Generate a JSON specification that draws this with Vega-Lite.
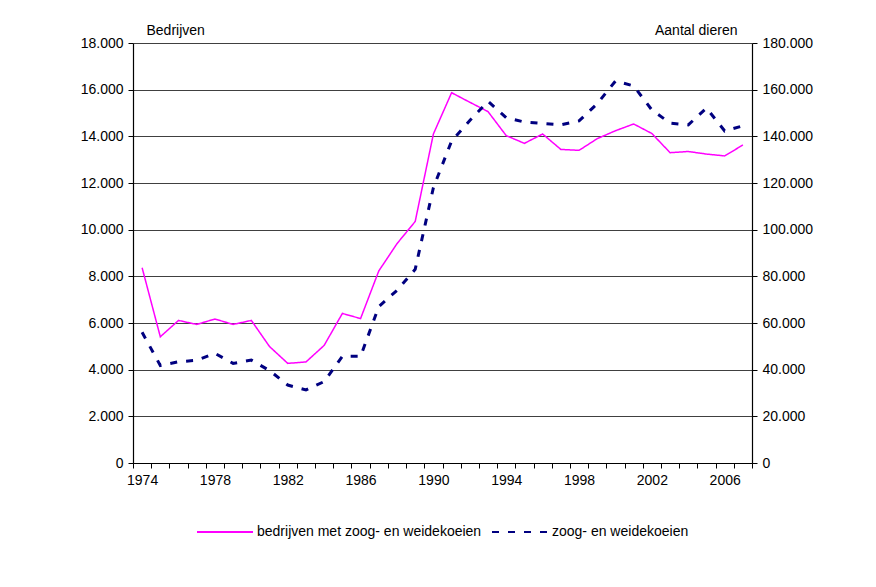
{
  "$schema": "https://vega.github.io/schema/vega-lite/v6.json",
  "width": 619,
  "height": 420,
  "autosize": {"type": "none"},
  "padding": {"left": 133, "top": 43, "right": 124, "bottom": 124},
  "background": "white",
  "config": {
    "view": {"stroke": null},
    "font": "Liberation Sans",
    "axis": {
      "labelFont": "Liberation Sans", "labelFontSize": 14, "labelColor": "#000",
      "titleFont": "Liberation Sans", "titleFontSize": 14, "titleFontWeight": "normal", "titleColor": "#000",
      "domainColor": "#000", "tickColor": "#000", "domainWidth": 1.2, "tickWidth": 1
    },
    "legend": {
      "orient": "none", "legendX": 63, "legendY": 460, "direction": "horizontal",
      "symbolType": "stroke", "symbolSize": 3136, "symbolStrokeWidth": 2,
      "labelFont": "Liberation Sans", "labelFontSize": 14, "labelColor": "#000", "labelLimit": 0,
      "columnPadding": 6, "labelOffset": 3
    }
  },
  "data": {"values": [
    {"jaar": 1974, "serie": "bedrijven met zoog- en weidekoeien", "waarde": 8370},
    {"jaar": 1975, "serie": "bedrijven met zoog- en weidekoeien", "waarde": 5410},
    {"jaar": 1976, "serie": "bedrijven met zoog- en weidekoeien", "waarde": 6110},
    {"jaar": 1977, "serie": "bedrijven met zoog- en weidekoeien", "waarde": 5940},
    {"jaar": 1978, "serie": "bedrijven met zoog- en weidekoeien", "waarde": 6170},
    {"jaar": 1979, "serie": "bedrijven met zoog- en weidekoeien", "waarde": 5940},
    {"jaar": 1980, "serie": "bedrijven met zoog- en weidekoeien", "waarde": 6110},
    {"jaar": 1981, "serie": "bedrijven met zoog- en weidekoeien", "waarde": 4990},
    {"jaar": 1982, "serie": "bedrijven met zoog- en weidekoeien", "waarde": 4270},
    {"jaar": 1983, "serie": "bedrijven met zoog- en weidekoeien", "waarde": 4330},
    {"jaar": 1984, "serie": "bedrijven met zoog- en weidekoeien", "waarde": 5040},
    {"jaar": 1985, "serie": "bedrijven met zoog- en weidekoeien", "waarde": 6410},
    {"jaar": 1986, "serie": "bedrijven met zoog- en weidekoeien", "waarde": 6190},
    {"jaar": 1987, "serie": "bedrijven met zoog- en weidekoeien", "waarde": 8230},
    {"jaar": 1988, "serie": "bedrijven met zoog- en weidekoeien", "waarde": 9400},
    {"jaar": 1989, "serie": "bedrijven met zoog- en weidekoeien", "waarde": 10350},
    {"jaar": 1990, "serie": "bedrijven met zoog- en weidekoeien", "waarde": 14100},
    {"jaar": 1991, "serie": "bedrijven met zoog- en weidekoeien", "waarde": 15870},
    {"jaar": 1992, "serie": "bedrijven met zoog- en weidekoeien", "waarde": 15460},
    {"jaar": 1993, "serie": "bedrijven met zoog- en weidekoeien", "waarde": 15060},
    {"jaar": 1994, "serie": "bedrijven met zoog- en weidekoeien", "waarde": 14030},
    {"jaar": 1995, "serie": "bedrijven met zoog- en weidekoeien", "waarde": 13700},
    {"jaar": 1996, "serie": "bedrijven met zoog- en weidekoeien", "waarde": 14100},
    {"jaar": 1997, "serie": "bedrijven met zoog- en weidekoeien", "waarde": 13440},
    {"jaar": 1998, "serie": "bedrijven met zoog- en weidekoeien", "waarde": 13400},
    {"jaar": 1999, "serie": "bedrijven met zoog- en weidekoeien", "waarde": 13900},
    {"jaar": 2000, "serie": "bedrijven met zoog- en weidekoeien", "waarde": 14240},
    {"jaar": 2001, "serie": "bedrijven met zoog- en weidekoeien", "waarde": 14530},
    {"jaar": 2002, "serie": "bedrijven met zoog- en weidekoeien", "waarde": 14120},
    {"jaar": 2003, "serie": "bedrijven met zoog- en weidekoeien", "waarde": 13300},
    {"jaar": 2004, "serie": "bedrijven met zoog- en weidekoeien", "waarde": 13350},
    {"jaar": 2005, "serie": "bedrijven met zoog- en weidekoeien", "waarde": 13240},
    {"jaar": 2006, "serie": "bedrijven met zoog- en weidekoeien", "waarde": 13160},
    {"jaar": 2007, "serie": "bedrijven met zoog- en weidekoeien", "waarde": 13630},
    {"jaar": 1974, "serie": "zoog- en weidekoeien", "waarde": 56000},
    {"jaar": 1975, "serie": "zoog- en weidekoeien", "waarde": 41800},
    {"jaar": 1976, "serie": "zoog- en weidekoeien", "waarde": 43400},
    {"jaar": 1977, "serie": "zoog- en weidekoeien", "waarde": 44000},
    {"jaar": 1978, "serie": "zoog- en weidekoeien", "waarde": 47000},
    {"jaar": 1979, "serie": "zoog- en weidekoeien", "waarde": 42700},
    {"jaar": 1980, "serie": "zoog- en weidekoeien", "waarde": 44100},
    {"jaar": 1981, "serie": "zoog- en weidekoeien", "waarde": 39600},
    {"jaar": 1982, "serie": "zoog- en weidekoeien", "waarde": 33400},
    {"jaar": 1983, "serie": "zoog- en weidekoeien", "waarde": 31300},
    {"jaar": 1984, "serie": "zoog- en weidekoeien", "waarde": 34900},
    {"jaar": 1985, "serie": "zoog- en weidekoeien", "waarde": 45700},
    {"jaar": 1986, "serie": "zoog- en weidekoeien", "waarde": 45700},
    {"jaar": 1987, "serie": "zoog- en weidekoeien", "waarde": 67000},
    {"jaar": 1988, "serie": "zoog- en weidekoeien", "waarde": 74000},
    {"jaar": 1989, "serie": "zoog- en weidekoeien", "waarde": 83000},
    {"jaar": 1990, "serie": "zoog- en weidekoeien", "waarde": 118000},
    {"jaar": 1991, "serie": "zoog- en weidekoeien", "waarde": 138000},
    {"jaar": 1992, "serie": "zoog- en weidekoeien", "waarde": 146800},
    {"jaar": 1993, "serie": "zoog- en weidekoeien", "waarde": 155000},
    {"jaar": 1994, "serie": "zoog- en weidekoeien", "waarde": 148000},
    {"jaar": 1995, "serie": "zoog- en weidekoeien", "waarde": 146100},
    {"jaar": 1996, "serie": "zoog- en weidekoeien", "waarde": 145500},
    {"jaar": 1997, "serie": "zoog- en weidekoeien", "waarde": 144900},
    {"jaar": 1998, "serie": "zoog- en weidekoeien", "waarde": 146600},
    {"jaar": 1999, "serie": "zoog- en weidekoeien", "waarde": 154000},
    {"jaar": 2000, "serie": "zoog- en weidekoeien", "waarde": 163700},
    {"jaar": 2001, "serie": "zoog- en weidekoeien", "waarde": 161600},
    {"jaar": 2002, "serie": "zoog- en weidekoeien", "waarde": 151300},
    {"jaar": 2003, "serie": "zoog- en weidekoeien", "waarde": 145700},
    {"jaar": 2004, "serie": "zoog- en weidekoeien", "waarde": 144900},
    {"jaar": 2005, "serie": "zoog- en weidekoeien", "waarde": 152100},
    {"jaar": 2006, "serie": "zoog- en weidekoeien", "waarde": 142300},
    {"jaar": 2007, "serie": "zoog- en weidekoeien", "waarde": 144500}
  ]},
  "encoding": {
    "x": {
      "field": "jaar", "type": "quantitative",
      "scale": {"domain": [1973.5, 2007.5], "nice": false, "zero": false},
      "axis": {
        "title": null,
        "values": [1973.5, 1974.5, 1975.5, 1976.5, 1977.5, 1978.5, 1979.5, 1980.5, 1981.5, 1982.5, 1983.5, 1984.5, 1985.5, 1986.5, 1987.5, 1988.5, 1989.5, 1990.5, 1991.5, 1992.5, 1993.5, 1994.5, 1995.5, 1996.5, 1997.5, 1998.5, 1999.5, 2000.5, 2001.5, 2002.5, 2003.5, 2004.5, 2005.5, 2006.5, 2007.5],
        "labelExpr": "((datum.value - 1973.5) % 4 == 0 && datum.value < 2007) ? ('' + (datum.value + 0.5)) : ''",
        "labelOffset": 9.1, "labelAlign": "center",
        "labelOverlap": false, "labelBound": false, "labelFlush": false,
        "tickSize": 5, "labelPadding": 5, "grid": false
      }
    },
    "color": {
      "field": "serie", "type": "nominal",
      "scale": {"domain": ["bedrijven met zoog- en weidekoeien", "zoog- en weidekoeien"], "range": ["#ff00ff", "#000080"]},
      "legend": {"title": null}
    },
    "strokeDash": {
      "field": "serie", "type": "nominal",
      "scale": {"domain": ["bedrijven met zoog- en weidekoeien", "zoog- en weidekoeien"], "range": [[1, 0], [7, 9]]},
      "legend": {"title": null}
    }
  },
  "layer": [
    {
      "transform": [{"filter": "datum.serie == 'bedrijven met zoog- en weidekoeien'"}],
      "mark": {"type": "line", "strokeWidth": 1.5},
      "encoding": {
        "y": {
          "field": "waarde", "type": "quantitative",
          "scale": {"domain": [0, 18000], "nice": false},
          "axis": {
            "values": [0, 2000, 4000, 6000, 8000, 10000, 12000, 14000, 16000, 18000],
            "title": "Bedrijven", "titleAngle": 0, "titleX": 13, "titleY": -9,
            "titleAlign": "left", "titleBaseline": "alphabetic",
            "labelExpr": "replace(format(datum.value, ','), ',', '.')",
            "grid": true, "gridColor": "#404040", "gridWidth": 1,
            "tickSize": 5, "labelPadding": 5
          }
        }
      }
    },
    {
      "transform": [{"filter": "datum.serie == 'zoog- en weidekoeien'"}],
      "mark": {"type": "line", "strokeWidth": 3},
      "encoding": {
        "y": {
          "field": "waarde", "type": "quantitative",
          "scale": {"domain": [0, 180000], "nice": false},
          "axis": {
            "orient": "right",
            "values": [0, 20000, 40000, 60000, 80000, 100000, 120000, 140000, 160000, 180000],
            "title": "Aantal dieren", "titleAngle": 0, "titleX": -15, "titleY": -9,
            "titleAlign": "right", "titleBaseline": "alphabetic",
            "labelExpr": "replace(format(datum.value, ','), ',', '.')",
            "grid": false, "tickSize": 5, "labelPadding": 5
          }
        }
      }
    }
  ],
  "resolve": {"scale": {"y": "independent"}}
}
